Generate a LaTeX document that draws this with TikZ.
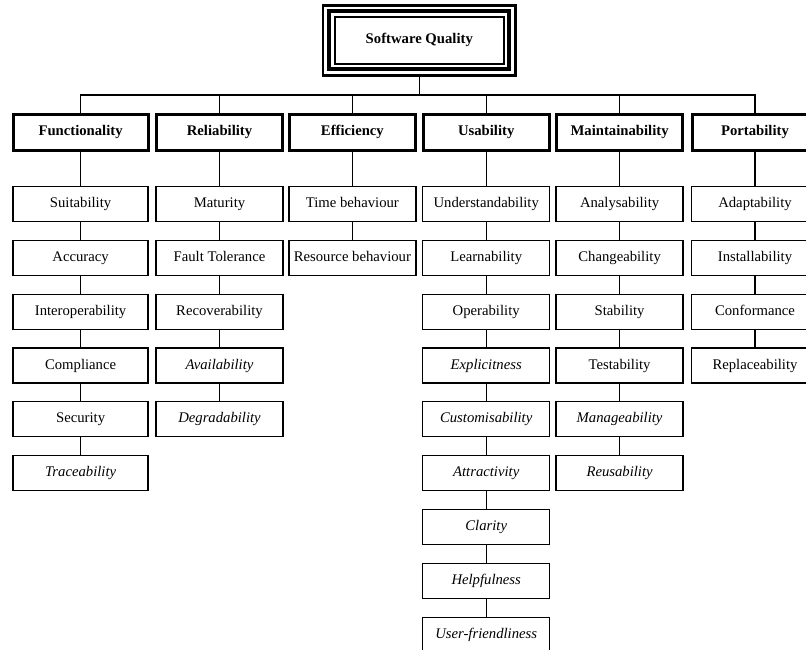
\documentclass[tikz,border=0pt]{standalone}
\usepackage{fontspec}
\setmainfont{Liberation Serif}
\begin{document}
\begin{tikzpicture}[x=1pt,y=-1pt,
  every node/.style={font=\fontsize{14.7}{17}\selectfont, inner sep=0pt, text height=10pt, text depth=3pt},
  headbox/.style={draw, line width=3pt, minimum width=126pt, minimum height=36pt, font=\fontsize{14.7}{17}\selectfont\bfseries},
  subbox/.style={draw, line width=1.3pt, minimum width=127pt, minimum height=35pt},
  wide/.style={minimum width=135pt},
  extra/.style={font=\fontsize{14.7}{17}\selectfont\itshape},
  link/.style={line width=1.4pt}]
\useasboundingbox (0,0) rectangle (806,650);

% root node with its triple frame
\node (root) at (419.3,40.5) [minimum width=192.5pt, minimum height=69pt, font=\fontsize{14.7}{17}\selectfont\bfseries] {Software Quality};
\draw[line width=2.7pt] (root.north west) rectangle (root.south east);
\draw[line width=4pt] ([xshift=6.5pt,yshift=-5.7pt]root.north west) rectangle ([xshift=-6.5pt,yshift=5.7pt]root.south east);
\draw[line width=2pt] ([xshift=12pt,yshift=-11pt]root.north west) rectangle ([xshift=-12pt,yshift=11pt]root.south east);

% characteristics
\node[headbox, wide] (h1) at (80.6,132.5) {Functionality};
\node[headbox] (h2) at (219.5,132.5) {Reliability};
\node[headbox] (h3) at (352.4,132.5) {Efficiency};
\node[headbox] (h4) at (486.2,132.5) {Usability};
\node[headbox] (h5) at (619.6,132.5) {Maintainability};
\node[headbox] (h6) at (755,132.5) {Portability};

% distribution bus
\coordinate (bus) at (419.3,95);
\draw[link] (root.south) -- (root.south |- bus);
\draw[link] (h1.north) -- (h1.north |- bus) -- (h6.north |- bus) -- (h6.north);
\foreach \h in {h2,h3,h4,h5} \draw[link] (\h.north) -- (\h.north |- bus);

% Functionality
\node[subbox, wide] (a1) at (80.6,204) {Suitability};
\node[subbox, wide] (a2) at (80.6,257.8) {Accuracy};
\node[subbox, wide] (a3) at (80.6,311.7) {Interoperability};
\node[subbox, wide] (a4) at (80.6,365.5) {Compliance};
\node[subbox, wide] (a5) at (80.6,419.3) {Security};
\node[subbox, wide, extra] (a6) at (80.6,473.2) {Traceability};
\draw[link] (h1) -- (a1) -- (a2) -- (a3) -- (a4) -- (a5) -- (a6);

% Reliability
\node[subbox] (b1) at (219.5,204) {Maturity};
\node[subbox] (b2) at (219.5,257.8) {Fault Tolerance};
\node[subbox] (b3) at (219.5,311.7) {Recoverability};
\node[subbox, extra] (b4) at (219.5,365.5) {Availability};
\node[subbox, extra] (b5) at (219.5,419.3) {Degradability};
\draw[link] (h2) -- (b1) -- (b2) -- (b3) -- (b4) -- (b5);

% Efficiency
\node[subbox] (c1) at (352.4,204) {Time behaviour};
\node[subbox] (c2) at (352.4,257.8) {Resource behaviour};
\draw[link] (h3) -- (c1) -- (c2);

% Usability
\node[subbox] (d1) at (486.2,204) {Understandability};
\node[subbox] (d2) at (486.2,257.8) {Learnability};
\node[subbox] (d3) at (486.2,311.7) {Operability};
\node[subbox, extra] (d4) at (486.2,365.5) {Explicitness};
\node[subbox, extra] (d5) at (486.2,419.3) {Customisability};
\node[subbox, extra] (d6) at (486.2,473.2) {Attractivity};
\node[subbox, extra] (d7) at (486.2,527) {Clarity};
\node[subbox, extra] (d8) at (486.2,580.8) {Helpfulness};
\node[subbox, extra] (d9) at (486.2,634.7) {User-friendliness};
\draw[link] (h4) -- (d1) -- (d2) -- (d3) -- (d4) -- (d5) -- (d6) -- (d7) -- (d8) -- (d9);

% Maintainability
\node[subbox] (e1) at (619.6,204) {Analysability};
\node[subbox] (e2) at (619.6,257.8) {Changeability};
\node[subbox] (e3) at (619.6,311.7) {Stability};
\node[subbox] (e4) at (619.6,365.5) {Testability};
\node[subbox, extra] (e5) at (619.6,419.3) {Manageability};
\node[subbox, extra] (e6) at (619.6,473.2) {Reusability};
\draw[link] (h5) -- (e1) -- (e2) -- (e3) -- (e4) -- (e5) -- (e6);

% Portability
\node[subbox] (f1) at (755,204) {Adaptability};
\node[subbox] (f2) at (755,257.8) {Installability};
\node[subbox] (f3) at (755,311.7) {Conformance};
\node[subbox] (f4) at (755,365.5) {Replaceability};
\draw[link] (h6) -- (f1) -- (f2) -- (f3) -- (f4);
\end{tikzpicture}
\end{document}
